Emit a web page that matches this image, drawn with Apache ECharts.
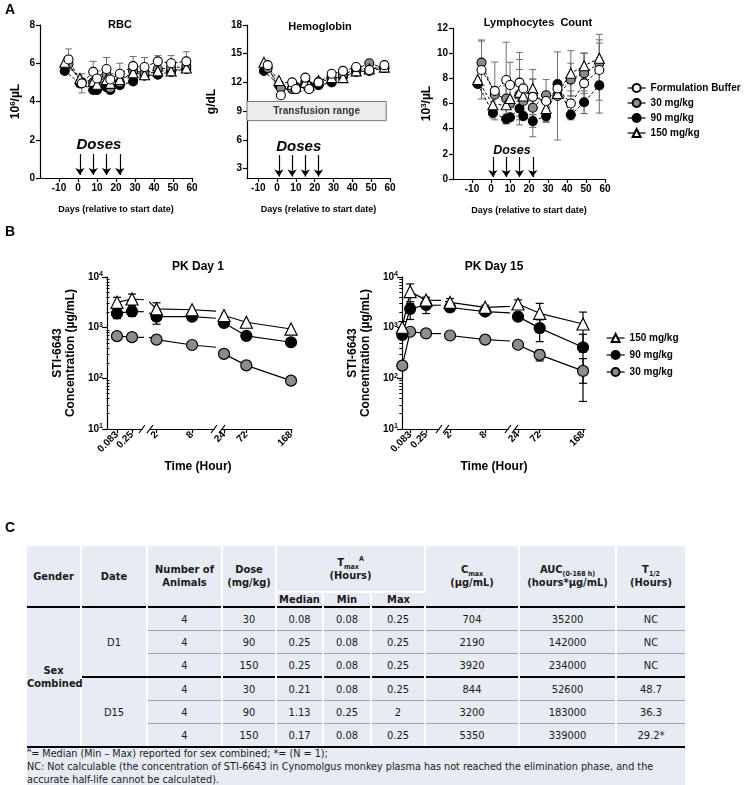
<!DOCTYPE html>
<html>
<head>
<meta charset="utf-8">
<script src="https://cdn.jsdelivr.net/npm/echarts@6/dist/echarts.min.js"></script>
<style>
html,body{margin:0;padding:0;background:#fff;}
#wrap{position:relative;width:746px;height:785px;overflow:hidden;background:#fff;}
#chart{position:absolute;left:0;top:0;width:746px;height:540px;}
#lblC{position:absolute;left:5px;top:519px;font:bold 14px "Liberation Sans",Arial,sans-serif;color:#000;}
#tbl{position:absolute;left:27px;top:546px;width:658px;height:239px;background:#e7ebf4;
  font-family:"Liberation Sans Narrow","Arial Narrow","DejaVu Sans Condensed",sans-serif;font-size:11px;color:#1a1a1a;}
#tbl table{border-collapse:collapse;table-layout:fixed;width:658px;}
#tbl th,#tbl td{padding:0;text-align:center;vertical-align:middle;border-right:2px solid #fff;line-height:13px;}
#tbl th:last-child,#tbl td:last-child{border-right:none;}
#tbl th{font-weight:bold;}
#tbl tr.h1 th{height:45px;}
#tbl tr.h2 th{height:13px;border-top:2px solid #fff;}
#tbl tr.b td{height:22px;}
#tbl tr.b td.v{border-top:1px solid #a3a3a3;}
#tbl tr.first td{border-top:2px solid #000 !important;}
#tbl tr.grp td{border-top:2px solid #000 !important;}
#tbl tr.last td{border-bottom:2px solid #000;}
#tbl td.gender{font-weight:bold;border-bottom:2px solid #000;}
#tbl td.date{border-bottom:2px solid #000;}
#tbl sub,#tbl sup{font-size:7px;line-height:0;}
#foot{position:absolute;left:0;top:201px;width:700px;line-height:13px;white-space:nowrap;font-size:11px;
  transform:scaleX(0.975);transform-origin:0 0;}
#foot sup{font-size:7px;line-height:0;}
</style>
</head>
<body>
<div id="wrap">
  <div id="chart"></div>
  <div id="lblC">C</div>
  <div id="tbl"></div>
</div>
<script>
// ---------------- Panel A data ----------------
const dayTicks = [-10, 0, 10, 20, 30, 40, 50, 60];
const doseDays = [1, 8, 15, 22];
const daysEarly = [-5, 2, 8, 10, 15, 17, 22, 29, 35, 42, 49, 57];
const daysLate  = [-7, 1, 8, 10, 15, 17, 22, 29, 35, 42, 49, 57];
const groupNamesA = ['Formulation Buffer', '30 mg/kg', '90 mg/kg', '150 mg/kg'];

const rbcFB    = [6.2, 4.95, 5.55, 5.2, 5.7, 5.15, 5.45, 5.85, 5.8, 6.1, 6.0, 6.1];
const rbcFBsd  = [0.55, 0.5, 0.55, 0.4, 0.6, 0.3, 0.55, 0.5, 0.5, 0.3, 0.4, 0.5];
const rbc30    = [5.95, 5.0, 5.0, 4.85, 5.4, 4.7, 5.0, 5.6, 5.5, 5.7, 5.75, 5.85];
const rbc90    = [5.6, 4.95, 4.6, 4.6, 4.75, 4.6, 4.85, 5.05, 5.35, 5.4, 5.55, 5.7];
const rbc150   = [6.05, 5.2, 5.05, 4.9, 5.15, 4.95, 5.15, 5.5, 5.4, 5.6, 5.6, 5.75];

const hbFB     = [13.8, 10.65, 12.0, 11.3, 12.5, 11.3, 12.0, 12.9, 13.2, 13.6, 13.3, 13.8];
const hb30     = [13.5, 11.4, 11.3, 11.5, 11.8, 11.5, 12.0, 12.4, 12.8, 13.4, 14.0, 13.5];
const hb90     = [13.2, 11.7, 11.4, 11.3, 12.0, 11.6, 11.7, 12.0, 12.6, 13.1, 13.2, 13.5];
const hb150    = [14.1, 12.2, 11.8, 11.6, 12.0, 11.7, 12.2, 12.5, 12.5, 13.2, 13.4, 13.6];
const transfusionRange = [8, 10];

const lymFB    = [8.66, 7.0, 7.87, 7.47, 7.66, 7.2, 6.53, 6.2, 7.2, 6.0, 7.6, 8.66];
const lymFBsd  = [2.3, 2.3, 3.0, 1.8, 2.4, null, 1.4, 1.7, null, 1.0, 2.4, 2.4];
const lym30    = [9.25, 6.7, 6.4, 6.0, 6.7, 6.2, 5.66, 6.66, 6.6, 7.9, 8.4, 9.2];
const lym30sd  = [1.8, null, null, null, 2.0, null, 2.3, null, 3.5, 1.3, 1.6, 1.6];
const lym90    = [7.55, 5.25, 4.77, 4.9, 5.6, 5.0, 4.6, 5.0, 7.55, 5.1, 6.1, 7.44];
const lym90sd  = [null, 0.4, 0.4, null, 0.6, null, 0.5, 0.4, null, 0.4, 0.9, 2.2];
const lym150   = [7.9, 5.9, 5.9, 6.4, 6.9, 6.6, 7.2, 5.6, 6.8, 8.4, 9.0, 9.6];
const lym150sd = [null, null, 1.5, null, 2.6, null, 1.5, 1.0, null, 1.8, 1.0, 1.9];

// ---------------- Panel B data ----------------
const pkTicks = [0.083, 0.25, 2, 8, 24, 72, 168];
const groupNamesB = ['150 mg/kg', '90 mg/kg', '30 mg/kg'];
const pkTimesD1   = [0.083, 0.25, 2, 8, 24, 72, 168];
const pkD1_150    = [3160, 3680, 2340, 2260, 1740, 1280, 940];
const pkD1_150sd  = [820, 920, 760, null, null, null, null];
const pkD1_90     = [1910, 2100, 1650, 1650, 1240, 690, 515];
const pkD1_90sd   = [400, 430, 480, null, null, null, null];
const pkD1_30     = [680, 650, 580, 455, 304, 180, 90];
const pkD1_30sd   = [null, null, null, null, null, null, null];

const pkTimesD15  = [0, 0.083, 0.25, 2, 8, 24, 72, 168];
const pkD15_150   = [1020, 5150, 3500, 3150, 2520, 2930, 1920, 1180];
const pkD15_150sd = [300, 2150, 500, 600, 250, 600, 1100, 850];
const pkD15_90    = [720, 2350, 2800, 2500, 2080, 1650, 980, 410];
const pkD15_90sd  = [null, 900, 900, 400, 300, 150, 450, 330];
const pkD15_30    = [178, 830, 770, 700, 580, 460, 290, 140];
const pkD15_30sd  = [25, null, null, null, 70, 70, 70, 105];

// ---------------- Panel C data ----------------
const tableDates = ['D1', 'D15'];
const tableGender = 'Sex<br>Combined';
const tableRows = [
  ['4', '30', '0.08', '0.08', '0.25', '704', '35200', 'NC'],
  ['4', '90', '0.25', '0.08', '0.25', '2190', '142000', 'NC'],
  ['4', '150', '0.25', '0.08', '0.25', '3920', '234000', 'NC'],
  ['4', '30', '0.21', '0.08', '0.25', '844', '52600', '48.7'],
  ['4', '90', '1.13', '0.25', '2', '3200', '183000', '36.3'],
  ['4', '150', '0.17', '0.08', '0.25', '5350', '339000', '29.2*']
];
const footnotes = [
  '<sup>A</sup>= Median (Min \u2013 Max) reported for sex combined; *= (N = 1);',
  'NC: Not calculable (the concentration of STI-6643 in Cynomolgus monkey plasma has not reached the elimination phase, and the',
  'accurate half-life cannot be calculated).'
];

// ---------------- build table ----------------
(function(){
  const colW = [54, 66, 75, 54, 47, 48, 54, 94, 97, 69];
  let h = '<table><colgroup>' + colW.map(w => '<col style="width:' + w + 'px">').join('') + '</colgroup>';
  h += '<tr class="h1"><th rowspan="2">Gender</th><th rowspan="2">Date</th><th rowspan="2">Number of<br>Animals</th>' +
       '<th rowspan="2">Dose<br>(mg/kg)</th><th colspan="3">T<sub>max</sub><sup>A</sup><br>(Hours)</th>' +
       '<th rowspan="2">C<sub>max</sub><br>(\u00b5g/mL)</th><th rowspan="2">AUC<sub>(0-168 h)</sub><br>(hours*\u00b5g/mL)</th>' +
       '<th rowspan="2">T<sub>1/2</sub><br>(Hours)</th></tr>';
  h += '<tr class="h2"><th>Median</th><th>Min</th><th>Max</th></tr>';
  tableRows.forEach((r, i) => {
    let cls = 'b';
    if (i === 0) cls += ' first';
    if (i === 3) cls += ' grp';
    if (i === tableRows.length - 1) cls += ' last';
    h += '<tr class="' + cls + '">';
    if (i === 0) h += '<td rowspan="6" class="gender">' + tableGender + '</td>';
    if (i % 3 === 0) h += '<td rowspan="3" class="date">' + tableDates[i / 3] + '</td>';
    r.forEach(v => { h += '<td class="v">' + v + '</td>'; });
    h += '</tr>';
  });
  h += '</table><div id="foot">' + footnotes.join('<br>') + '</div>';
  document.getElementById('tbl').innerHTML = h;
})();

// ---------------- chart ----------------
const FONT = '"Liberation Sans", Arial, Helvetica, sans-serif';
const STY = {
  'Formulation Buffer': {symbol: 'circle', fill: '#ffffff'},
  '30 mg/kg': {symbol: 'circle', fill: '#8c8c8c'},
  '90 mg/kg': {symbol: 'circle', fill: '#000000'},
  '150 mg/kg': {symbol: 'triangle', fill: '#ffffff'}
};

function errRender(capW, color, lw, minVal) {
  return function (params, api) {
    const x = api.value(0);
    let lo = api.value(1), hi = api.value(2);
    if (minVal != null) lo = Math.max(lo, minVal);
    const p1 = api.coord([x, hi]), p2 = api.coord([x, lo]);
    const st = {stroke: color, lineWidth: lw, fill: null};
    return {type: 'group', children: [
      {type: 'line', shape: {x1: p1[0], y1: p1[1], x2: p2[0], y2: p2[1]}, style: st},
      {type: 'line', shape: {x1: p1[0] - capW / 2, y1: p1[1], x2: p1[0] + capW / 2, y2: p1[1]}, style: st},
      {type: 'line', shape: {x1: p2[0] - capW / 2, y1: p2[1], x2: p2[0] + capW / 2, y2: p2[1]}, style: st}
    ]};
  };
}

const series = [];
const gridsA = [
  {left: 40, top: 25, width: 152, height: 153, xmin: -20, xmax: 60},
  {left: 247, top: 25, width: 143, height: 153, xmin: -16, xmax: 60},
  {left: 453, top: 28, width: 152, height: 151, xmin: -20, xmax: 60}
];

function lineA(name, days, vals, gi, extra) {
  const st = STY[name];
  return Object.assign({
    type: 'line', name: name, xAxisIndex: gi, yAxisIndex: gi,
    data: days.map((d, i) => [d, vals[i]]),
    symbol: st.symbol, symbolSize: st.symbol === 'triangle' ? 10 : 9,
    lineStyle: {color: '#000', width: 1, type: [3, 2]},
    itemStyle: {color: st.fill, borderColor: '#000', borderWidth: 1.1},
    z: 3, silent: true, emphasis: {disabled: true}
  }, extra || {});
}
function errA(days, vals, sds, gi) {
  const data = [];
  days.forEach((d, i) => { if (sds && sds[i] != null) data.push([d, vals[i] - sds[i], vals[i] + sds[i]]); });
  return {type: 'custom', xAxisIndex: gi, yAxisIndex: gi, data: data, encode: {x: 0, y: [1, 2]},
    renderItem: errRender(7, '#6f6f6f', 1), z: 2, silent: true};
}
function doseMarks(gi, yTop, yBot, textPos, fontSize) {
  return {
    markLine: {silent: true, symbol: ['none', 'arrow'], symbolSize: 7, animation: false,
      lineStyle: {color: '#000', width: 1.2, type: 'solid'}, label: {show: false},
      data: doseDays.map(d => [{coord: [d, yTop]}, {coord: [d, yBot]}])},
    markPoint: {silent: true, animation: false, symbol: 'circle', symbolSize: 0,
      data: [{coord: textPos, label: {show: true, position: 'inside', formatter: 'Doses',
        fontSize: fontSize, fontWeight: 'bold', fontStyle: 'italic', color: '#000', fontFamily: FONT}}]}
  };
}

// RBC
series.push(errA(daysEarly, rbcFB, rbcFBsd, 0));
series.push(lineA('90 mg/kg', daysLate, rbc90, 0));
series.push(lineA('30 mg/kg', daysEarly, rbc30, 0));
series.push(lineA('150 mg/kg', daysLate, rbc150, 0));
series.push(lineA('Formulation Buffer', daysEarly, rbcFB, 0, doseMarks(0, 1.25, 0.16, [11, 1.75], 15)));
// Hemoglobin
const hbMarks = doseMarks(1, 4.4, 2.15, [11.5, 5.25], 15);
hbMarks.markArea = {silent: true, animation: false,
  itemStyle: {color: '#ececec', borderColor: '#7a7a7a', borderWidth: 1},
  label: {show: true, position: 'inside', formatter: 'Transfusion range', fontSize: 10, fontWeight: 'bold', color: '#333', fontFamily: FONT},
  data: [[{coord: [gridsA[1].xmin, transfusionRange[0]]}, {coord: [58, transfusionRange[1]]}]]};
series.push(lineA('90 mg/kg', daysLate, hb90, 1));
series.push(lineA('30 mg/kg', daysEarly, hb30, 1));
series.push(lineA('150 mg/kg', daysLate, hb150, 1));
series.push(lineA('Formulation Buffer', daysEarly, hbFB, 1, hbMarks));
// Lymphocytes
series.push(errA(daysEarly, lymFB, lymFBsd, 2));
series.push(errA(daysEarly, lym30, lym30sd, 2));
series.push(errA(daysLate, lym90, lym90sd, 2));
series.push(errA(daysLate, lym150, lym150sd, 2));
series.push(lineA('90 mg/kg', daysLate, lym90, 2));
series.push(lineA('30 mg/kg', daysEarly, lym30, 2));
series.push(lineA('150 mg/kg', daysLate, lym150, 2));
series.push(lineA('Formulation Buffer', daysEarly, lymFB, 2, doseMarks(2, 1.75, 0.16, [11, 2.3], 12.5)));

// ---------------- Panel B grids ----------------
const pkTop = 277, pkH = 152;
const segsD1 = [
  {left: 107, width: 35, min: -0.028, max: 0.361},
  {left: 150, width: 64, min: 0.9, max: 11.7},
  {left: 222, width: 70, min: 19.7, max: 170.1}
];
const segsD15 = [
  {left: 402, width: 37, min: -0.003, max: 0.386},
  {left: 446, width: 62, min: 1.31, max: 11.9},
  {left: 515, width: 70, min: 17.35, max: 172.4}
];

const grids = [], xAxes = [], yAxes = [];
gridsA.forEach((g, i) => {
  grids.push({left: g.left, top: g.top, width: g.width, height: g.height, containLabel: false, outerBoundsMode: 'none'});
});
const axLine = {show: true, onZero: false, lineStyle: {color: '#000', width: 1.2}};
const axTick = {length: 4, lineStyle: {color: '#000', width: 1.2}};
const labSty = {color: '#000', fontWeight: 'bold', fontSize: 10, fontFamily: FONT};
gridsA.forEach((g, i) => {
  xAxes.push({gridIndex: i, type: 'value', min: g.xmin, max: g.xmax,
    axisLine: axLine, axisTick: Object.assign({show: true, customValues: dayTicks}, axTick),
    axisLabel: Object.assign({show: true, customValues: dayTicks, margin: 5}, labSty),
    splitLine: {show: false},
    name: 'Days (relative to start date)', nameLocation: 'middle', nameGap: 27,
    nameTextStyle: {color: '#000', fontWeight: 'bold', fontSize: 9, fontFamily: FONT}});
});
const supRich = {sup: {fontSize: 8, fontWeight: 'bold', fontFamily: FONT, color: '#000', verticalAlign: 'top', padding: [0, 0, 6, 0]}};
const yNameSty = {color: '#000', fontWeight: 'bold', fontSize: 12, fontFamily: FONT, rich: supRich};
yAxes.push({gridIndex: 0, type: 'value', min: 0, max: 8, interval: 2, axisLine: axLine,
  axisTick: Object.assign({show: true}, axTick), axisLabel: Object.assign({margin: 5}, labSty), splitLine: {show: false},
  name: '10{sup|6}/\u00b5L', nameLocation: 'middle', nameGap: 17, nameRotate: 90, nameTextStyle: yNameSty});
yAxes.push({gridIndex: 1, type: 'value', min: 2, max: 18, axisLine: axLine,
  axisTick: Object.assign({show: true, customValues: [3, 6, 9, 12, 15, 18]}, axTick),
  axisLabel: Object.assign({margin: 5, customValues: [3, 6, 9, 12, 15, 18]}, labSty), splitLine: {show: false},
  name: 'g/dL', nameLocation: 'middle', nameGap: 29, nameRotate: 90, nameTextStyle: yNameSty});
yAxes.push({gridIndex: 2, type: 'value', min: 0, max: 12, interval: 2, axisLine: axLine,
  axisTick: Object.assign({show: true}, axTick), axisLabel: Object.assign({margin: 5}, labSty), splitLine: {show: false},
  name: '10{sup|3}/\u00b5L', nameLocation: 'middle', nameGap: 13, nameRotate: 90, nameTextStyle: yNameSty});

const pkLogRich = {s: {fontSize: 7, fontWeight: 'bold', fontFamily: FONT, color: '#000', verticalAlign: 'top', padding: [0, 0, 5, 0]}};
function addPkChart(segs) {
  const idx = [];
  segs.forEach((s, k) => {
    const gi = grids.length;
    idx.push(gi);
    grids.push({left: s.left, top: pkTop, width: s.width, height: pkH, containLabel: false, outerBoundsMode: 'none'});
    const ticks = pkTicks.filter(t => t >= s.min && t <= s.max);
    xAxes.push({gridIndex: gi, type: 'value', min: s.min, max: s.max,
      axisLine: axLine, axisTick: Object.assign({show: true, customValues: ticks}, axTick),
      axisLabel: Object.assign({show: true, customValues: ticks, rotate: 45, margin: 4,
        formatter: v => String(v)}, labSty), splitLine: {show: false}});
    if (k === 0) {
      yAxes.push({gridIndex: gi, type: 'log', logBase: 10, min: 10, max: 10000, axisLine: axLine,
        axisTick: Object.assign({show: true}, axTick, {length: 5}),
        axisLabel: Object.assign({margin: 4, formatter: v => '10{s|' + Math.round(Math.log10(v)) + '}', rich: pkLogRich}, labSty),
        minorTick: {show: false}, splitLine: {show: false},
        name: 'STI-6643\nConcentration (\u00b5g/mL)', nameLocation: 'middle', nameGap: 30, nameRotate: 90,
        nameTextStyle: {color: '#000', fontWeight: 'bold', fontSize: 12, lineHeight: 13, fontFamily: FONT}});
    } else {
      yAxes.push({gridIndex: gi, type: 'log', logBase: 10, min: 10, max: 10000, show: false});
    }
  });
  return idx;
}
const idxD1 = addPkChart(segsD1);
const idxD15 = addPkChart(segsD15);
// minor log ticks on the y axes
const minorVals = [];
[10, 100, 1000].forEach(b => { for (let m = 2; m <= 9; m++) minorVals.push(b * m); });
[idxD1[0], idxD15[0]].forEach(gi => {
  yAxes.push({gridIndex: gi, type: 'log', logBase: 10, min: 10, max: 10000, position: 'left',
    axisLine: {show: false}, axisLabel: {show: false}, splitLine: {show: false},
    axisTick: {show: true, customValues: minorVals, length: 3, lineStyle: {color: '#000', width: 1}}});
});

function pkSeries(name, times, vals, sds, segIdx, segs) {
  const st = STY[name];
  segIdx.forEach((gi, k) => {
    const s = segs[k];
    const eData = [];
    times.forEach((t, i) => {
      if (sds[i] != null && t >= s.min && t <= s.max) eData.push([t, vals[i] - sds[i], vals[i] + sds[i]]);
    });
    series.push({type: 'custom', xAxisIndex: gi, yAxisIndex: gi, data: eData, encode: {x: 0, y: [1, 2]},
      renderItem: errRender(8, '#000', 1.2, 10), z: 2, silent: true});
    series.push({type: 'line', name: name, xAxisIndex: gi, yAxisIndex: gi, clip: true,
      data: times.map((t, i) => [t, vals[i]]),
      symbol: st.symbol, symbolSize: st.symbol === 'triangle' ? 12 : 11,
      lineStyle: {color: '#000', width: 1.2, type: 'solid'},
      itemStyle: {color: st.fill, borderColor: '#000', borderWidth: 1.2},
      z: 3, silent: true, emphasis: {disabled: true}});
  });
}
pkSeries('30 mg/kg', pkTimesD1, pkD1_30, pkD1_30sd, idxD1, segsD1);
pkSeries('90 mg/kg', pkTimesD1, pkD1_90, pkD1_90sd, idxD1, segsD1);
pkSeries('150 mg/kg', pkTimesD1, pkD1_150, pkD1_150sd, idxD1, segsD1);
pkSeries('30 mg/kg', pkTimesD15, pkD15_30, pkD15_30sd, idxD15, segsD15);
pkSeries('90 mg/kg', pkTimesD15, pkD15_90, pkD15_90sd, idxD15, segsD15);
pkSeries('150 mg/kg', pkTimesD15, pkD15_150, pkD15_150sd, idxD15, segsD15);

// ---------------- graphics ----------------
const graphic = [];
function txt(text, x, y, size, extra) {
  graphic.push({type: 'text', x: x, y: y, silent: true, style: Object.assign({text: text,
    font: 'bold ' + size + 'px ' + FONT, fill: '#000', textAlign: 'center', textVerticalAlign: 'middle'}, extra || {})});
}
txt('A', 10, 10, 14);
txt('B', 10, 232, 14);
txt('RBC', 120, 25, 11);
txt('Hemoglobin', 320, 27, 11);
txt('Lymphocytes  Count', 538, 23, 11);
txt('PK Day 1', 198, 267, 12);
txt('PK Day 15', 494, 267, 12);
txt('Time (Hour)', 198, 467, 12);
txt('Time (Hour)', 494, 467, 12);
// axis break marks
[segsD1, segsD15].forEach(segs => {
  const yb = pkTop + pkH;
  for (let k = 0; k < segs.length - 1; k++) {
    [segs[k].left + segs[k].width, segs[k + 1].left].forEach(x => {
      graphic.push({type: 'line', silent: true, shape: {x1: x - 3, y1: yb + 4, x2: x + 3, y2: yb - 4},
        style: {stroke: '#000', lineWidth: 1.2}});
    });
  }
});

const legendBase = {orient: 'vertical', itemWidth: 18, itemHeight: 10, selectedMode: false, padding: 0,
  textStyle: {color: '#000', fontWeight: 'bold', fontSize: 10, fontFamily: FONT},
  lineStyle: {type: 'solid', width: 1.2, color: '#000'}};
const legends = [
  Object.assign({}, legendBase, {data: groupNamesA, left: 627, top: 83, itemGap: 5}),
  Object.assign({}, legendBase, {data: groupNamesB, left: 606, top: 333, itemGap: 7})
];

const chart = echarts.init(document.getElementById('chart'), null, {renderer: 'canvas'});
chart.setOption({
  animation: false,
  backgroundColor: '#fff',
  textStyle: {fontFamily: FONT},
  grid: grids, xAxis: xAxes, yAxis: yAxes,
  legend: legends,
  graphic: graphic,
  series: series
});
window.chart = chart;
</script>
</body>
</html>
